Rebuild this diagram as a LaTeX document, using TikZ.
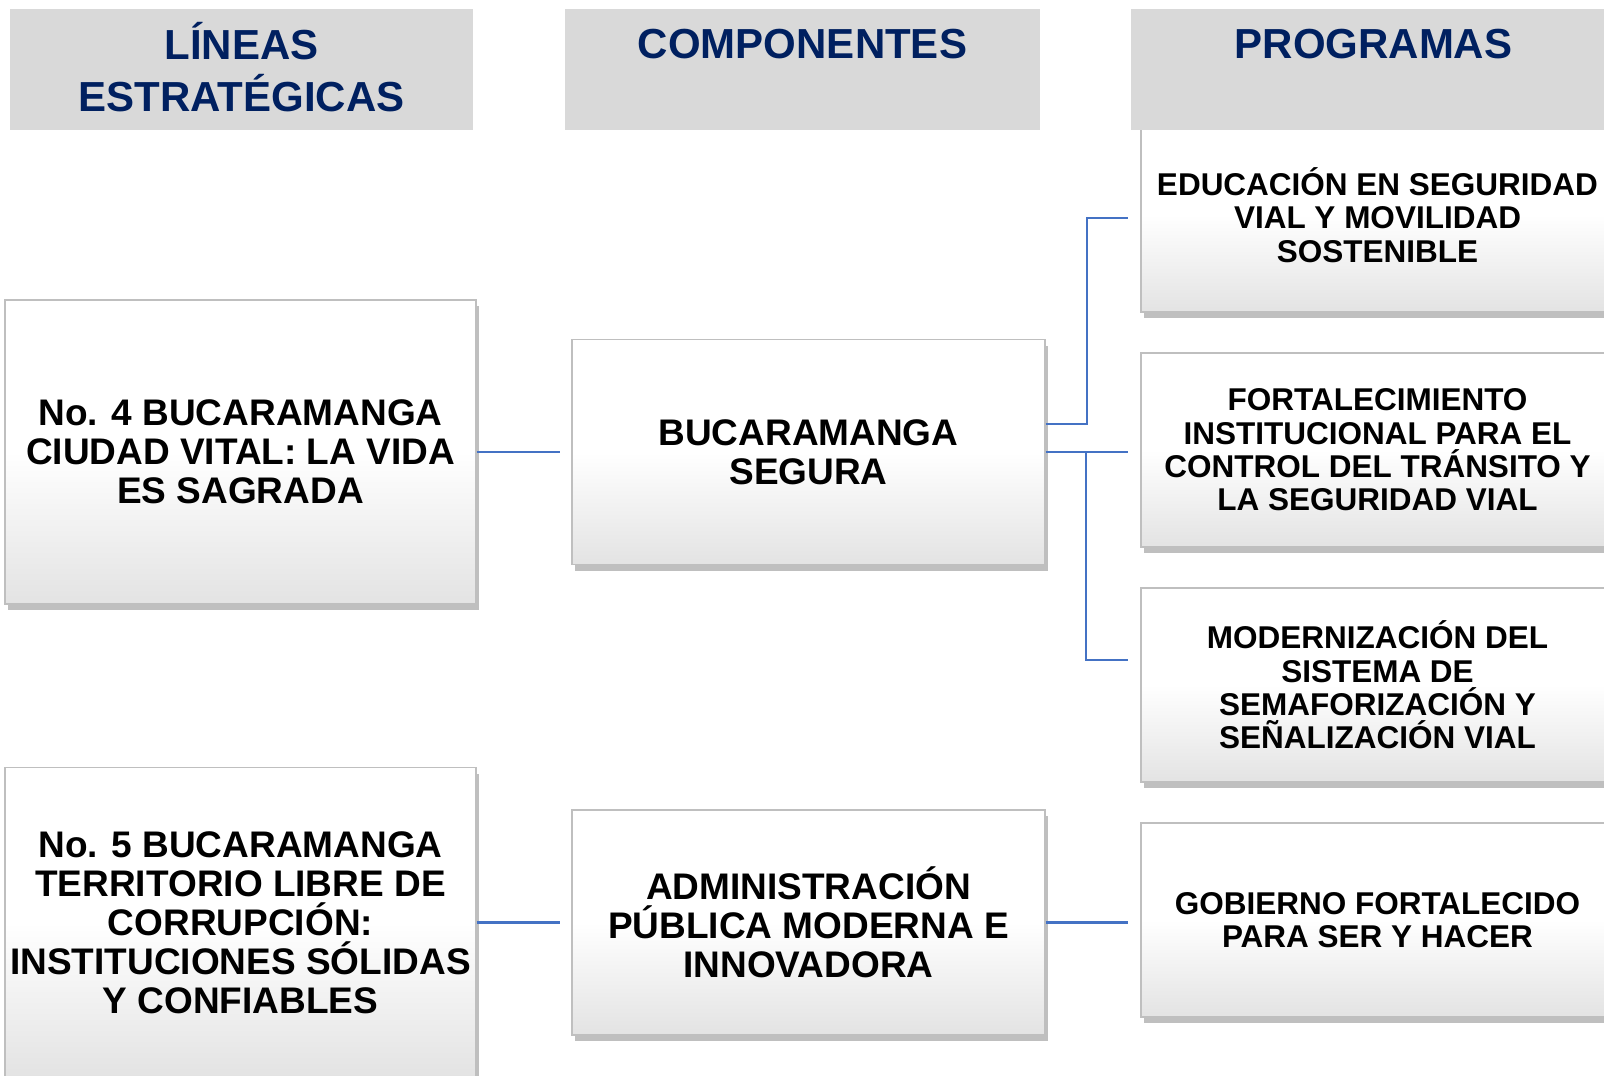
\documentclass[tikz,border=0pt]{standalone}
\usepackage{fontspec}
\setmainfont{Liberation Sans}
\usepackage{tikz}
\usetikzlibrary{positioning}
\usetikzlibrary{shadows}
\usetikzlibrary{calc}
\definecolor{head navy}{HTML}{002060}
\definecolor{head gray}{HTML}{D9D9D9}
\definecolor{link blue}{HTML}{4472C4}
\tikzstyle{box} = [rectangle, draw = gray!50, line width = 1.4pt, top color = white, bottom color = gray!22, middle color = white,
                   drop shadow = {shadow xshift = 2.5pt, shadow yshift = -6pt, fill = black!50},
                   align = center, inner sep = 0pt, font = \bfseries\fontsize{37}{39}\selectfont]
\tikzstyle{line box} = [box, minimum width = 471pt, minimum height = 304pt]
\tikzstyle{component box} = [box, minimum width = 473pt, minimum height = 225pt]
\tikzstyle{program box} = [box, minimum width = 473pt, minimum height = 194pt, font = \bfseries\fontsize{31.5}{33.4}\selectfont]
\tikzstyle{header box} = [rectangle, fill = head gray, text = head navy, align = center, inner sep = 0pt,
                          minimum height = 121pt, font = \bfseries\fontsize{42}{52}\selectfont]
\tikzstyle{link} = [draw = link blue, line width = 2.4pt]
\tikzstyle{chart picture} = [x = 1pt, y = -1pt]

\begin{document}
\begin{tikzpicture}[chart picture,
                    one line/.style = {text height = 32pt, text depth = 55pt},
                   ]
        \useasboundingbox (0, 0) rectangle (1604, 1076);
        \fill [white] (0, 0) rectangle (1604, 1076);
        \clip (0, 0) rectangle (1604, 1076);

        % programas
        \node [program box] (prog1) at (1377.5, 215) {EDUCACIÓN EN SEGURIDAD\\VIAL Y MOVILIDAD\\SOSTENIBLE};
        \node [program box] (prog2) at (1377.5, 450) {FORTALECIMIENTO\\INSTITUCIONAL PARA EL\\CONTROL DEL TRÁNSITO Y\\LA SEGURIDAD VIAL};
        \node [program box] (prog3) at (1377.5, 685) {MODERNIZACIÓN DEL\\SISTEMA DE\\SEMAFORIZACIÓN Y\\SEÑALIZACIÓN VIAL};
        \node [program box] (prog4) at (1377.5, 920) {GOBIERNO FORTALECIDO\\PARA SER Y HACER};

        % encabezados
        \node [header box, text depth = 6pt, minimum width = 463pt] (head_lines) at (241.5, 69.5) {LÍNEAS\\ESTRATÉGICAS};
        \node [header box, one line, minimum width = 475pt] (head_comp) at (802.5, 69.5) {COMPONENTES};
        \node [header box, one line, minimum width = 485pt] (head_prog) at (1373.5, 69.5) {PROGRAMAS};

        % lineas y componentes
        \node [line box] (line4) at (240.5, 452) {No. 4 BUCARAMANGA\\CIUDAD VITAL: LA VIDA\\ES SAGRADA};
        \node [line box, minimum height = 310pt] (line5) at (240.5, 922.5) {No. 5 BUCARAMANGA\\TERRITORIO LIBRE DE\\CORRUPCIÓN:\\INSTITUCIONES SÓLIDAS\\Y CONFIABLES};
        \node [component box] (comp1) at (808.5, 452) {BUCARAMANGA\\SEGURA};
        \node [component box] (comp2) at (808.5, 922.5) {ADMINISTRACIÓN\\PÚBLICA MODERNA E\\INNOVADORA};

        \coordinate (split) at (1086, 452);

        \draw [link, shorten > = 11pt] (line4) -- (comp1);
        \draw [link, shorten > = 11pt] (line5) -- (comp2);
        \draw [link, shorten > = 12pt] ([yshift = 28pt]comp1.east) -- ++(41, 0) |- ([yshift = -3pt]prog1.west);
        \draw [link, shorten > = 12pt] (comp1.east) -- (comp1.east -| prog2.west);
        \draw [link, shorten > = 12pt] (split) |- ([yshift = 25pt]prog3.west);
        \draw [link, shorten > = 12pt] (comp2) -- (comp2 -| prog4.west);
    \end{tikzpicture}
\end{document}
